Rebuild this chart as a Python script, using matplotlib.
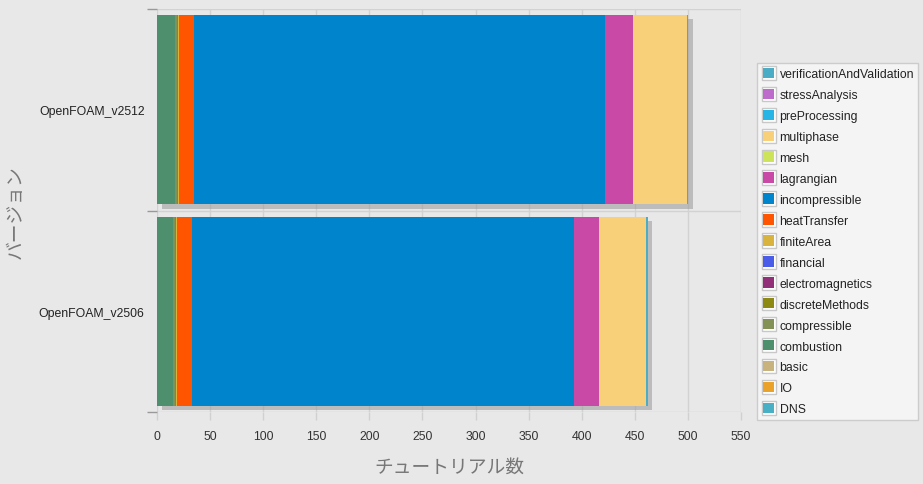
import matplotlib
matplotlib.use("Agg")
import matplotlib.pyplot as plt
import matplotlib.patheffects as pe
from matplotlib.patches import Rectangle
from matplotlib.legend_handler import HandlerPatch

plt.rcParams['font.family'] = ['Liberation Sans', 'Noto Sans CJK JP', 'DejaVu Sans']

versions = ["OpenFOAM_v2506", "OpenFOAM_v2512"]
categories = ["DNS", "IO", "basic", "combustion", "compressible", "discreteMethods",
              "electromagnetics", "financial", "finiteArea", "heatTransfer",
              "incompressible", "lagrangian", "mesh", "multiphase", "preProcessing",
              "stressAnalysis", "verificationAndValidation"]
values_v2506 = [0, 0, 0, 15, 2, 1, 0, 0, 1, 14, 360, 23, 0, 45, 0, 0, 1]
values_v2512 = [0, 0, 0, 17, 2, 1, 0, 0, 1, 14, 387, 26, 0, 51, 0, 0, 1]
colors = ["#49afc5", "#eba22b", "#c8b37e", "#4e8f6d", "#829257", "#8c8a12",
          "#913078", "#4a5de8", "#d8b43e", "#ff5500", "#0084cc", "#c94aa6",
          "#cde35a", "#f9d07a", "#27b5e6", "#bd6ccb", "#4bacc6"]
xticks = list(range(0, 551, 50))

fig = plt.figure(figsize=(9.23, 4.85), dpi=100, facecolor="#e8e8e8")
ax = fig.add_axes([157/923, 1-413/485, 584/923, 403/485])
ax.set_facecolor("#e8e8e8")

data = [values_v2506, values_v2512]
shadow = [pe.SimplePatchShadow(offset=(3.5, -3.0), shadow_rgbFace="#999999", alpha=0.55), pe.Normal()]
for yi, vals in enumerate(data):
    left = 0
    for ci, v in enumerate(vals):
        if v > 0:
            ax.barh(yi, v, left=left, height=0.94, color=colors[ci], linewidth=0,
                    path_effects=shadow, zorder=3)
        left += v

ax.set_xlim(0, 550)
ax.set_ylim(-0.5, 1.5)
ax.set_xticks(xticks)
ax.set_xticklabels([str(t) for t in xticks], fontsize=8.8, color="#333333")
ax.set_yticks([0, 1])
ax.set_yticklabels(versions, fontsize=8.8, color="#222222")
ax.tick_params(axis="y", which="major", length=0, pad=9)
ax.set_yticks([-0.5, 0.5, 1.5], minor=True)
ax.tick_params(axis="y", which="minor", length=7, color="#999999", width=1)
ax.tick_params(axis="x", which="major", length=6, color="#d0d0d0", width=1, pad=7)
ax.grid(axis="x", which="major", color="#d2d2d2", linewidth=1, zorder=0)
ax.grid(axis="y", which="minor", color="#d2d2d2", linewidth=1, zorder=0)
for s in ax.spines.values():
    s.set_visible(False)
ax.set_axisbelow(True)

ax.set_xlabel("チュートリアル数", fontsize=13.5, color="#777777", labelpad=10,
              family=['Noto Sans CJK JP', 'DejaVu Sans'])
fig.text(15/923, 1-212/485, "バージョン", rotation=90, ha="center", va="center",
         fontsize=13.5, color="#777777", family=['Noto Sans CJK JP', 'DejaVu Sans'])


class BoxHandler(HandlerPatch):
    def create_artists(self, legend, orig_handle, xdescent, ydescent, width, height, fontsize, trans):
        s = height * 1.3
        x0 = -xdescent + (width - s) / 2
        y0 = -ydescent + (height - s) / 2
        outer = Rectangle((x0, y0), s, s, facecolor="white", edgecolor="#c8c8c8", linewidth=1, transform=trans)
        pad = s * 0.14
        inner = Rectangle((x0 + pad, y0 + pad), s - 2 * pad, s - 2 * pad,
                          facecolor=orig_handle.get_facecolor(), edgecolor="none", transform=trans)
        return [outer, inner]


handles = [Rectangle((0, 0), 1, 1, facecolor=c) for c in colors][::-1]
labels = categories[::-1]
leg = fig.legend(handles, labels, loc="upper left", bbox_to_anchor=(757/923, 1-64/485),
                 borderaxespad=0, fontsize=8.8, frameon=True, fancybox=False,
                 facecolor="#f4f4f4", edgecolor="#cccccc", framealpha=1,
                 handlelength=1.2, handleheight=1.0, handletextpad=0.3,
                 labelspacing=0.68, borderpad=0.35,
                 handler_map={Rectangle: BoxHandler()})
for t in leg.get_texts():
    t.set_color("#222222")

fig.savefig("out.png", dpi=100, facecolor=fig.get_facecolor())
